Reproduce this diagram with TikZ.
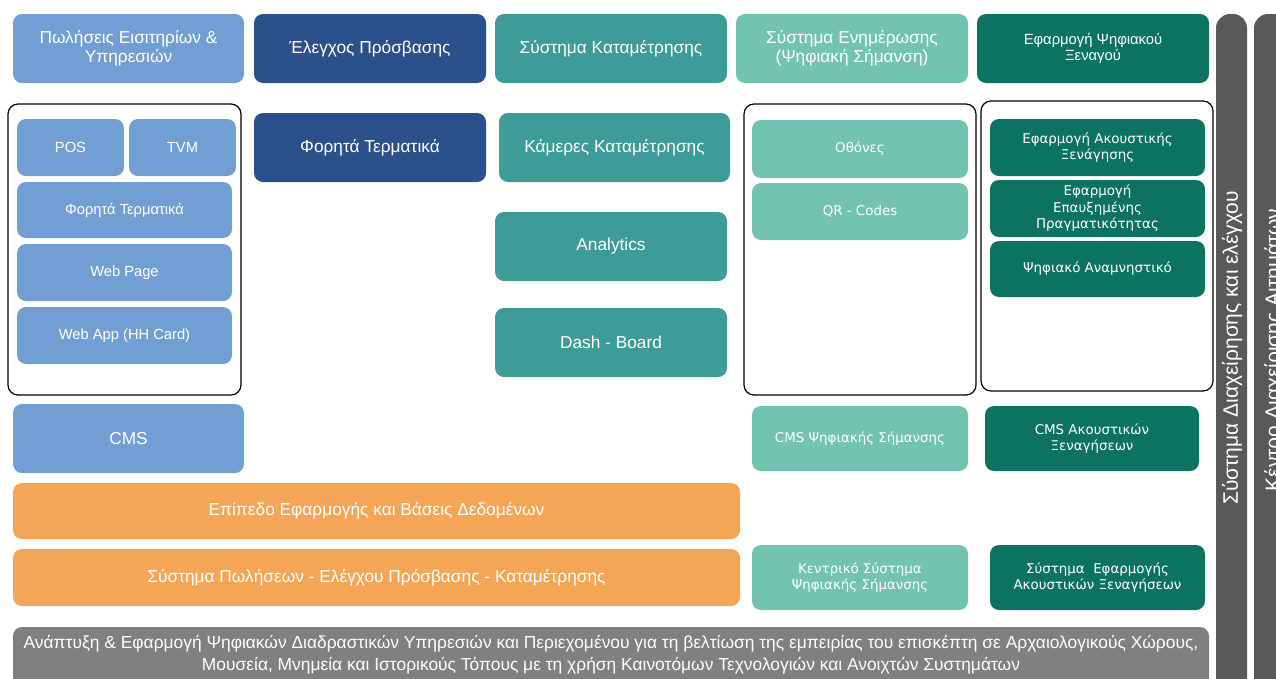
\documentclass[tikz,border=0pt]{standalone}
\usepackage{fontspec}
\setmainfont{Liberation Sans}
\newfontfamily\geo{DejaVu Sans}
\definecolor{lblue}{HTML}{729FD3}
\definecolor{dblue}{HTML}{2A5189}
\definecolor{teal1}{HTML}{3D9B98}
\definecolor{lgreen}{HTML}{72C4AF}
\definecolor{dgreen}{HTML}{0C7362}
\definecolor{orng}{HTML}{F4A556}
\definecolor{gbar}{HTML}{808080}
\definecolor{vbar}{HTML}{595959}
\tikzset{
  card/.style={rounded corners=9pt, draw=none, text=white, align=center, inner sep=2pt, outer sep=0pt},
  blt/.style={card, fill=lblue},
  bdk/.style={card, fill=dblue},
  btl/.style={card, fill=teal1},
  glt/.style={card, fill=lgreen},
  gdk/.style={card, fill=dgreen},
  org/.style={card, fill=orng},
  frame/.style={rounded corners=10pt, draw=black, line width=1.2pt, fill=none, outer sep=0pt, inner sep=0pt},
  big/.style={font=\fontsize{17.3}{19.5}\selectfont},
  sml/.style={font=\fontsize{14.7}{16.5}\selectfont},
  guidef/.style={font=\fontsize{14.8}{16.5}\selectfont},
  geos/.style={font=\geo\fontsize{13.4}{16.5}\selectfont},
  vtext/.style={text=white, rotate=90, font=\fontsize{21}{23}\selectfont, inner sep=0pt},
}
\newcommand\bx[7]{\node[#6, minimum width={#4pt-#2pt}, minimum height={#5pt-#3pt}] (#1) at ({(#2+#4)/2},{(#3+#5)/2}) {#7};}
\begin{document}
\begin{tikzpicture}[x=1pt,y=-1pt]
\useasboundingbox (0,0) rectangle (1276,678);
% top row
\bx{sales}{13}{14}{244}{83}{blt,big}{Πωλήσεις Εισιτηρίων \&\\Υπηρεσιών}
\bx{access}{254}{14}{486}{83}{bdk,big}{Έλεγχος Πρόσβασης}
\bx{count}{495}{14}{727}{83}{btl,big}{Σύστημα Καταμέτρησης}
\bx{info}{736}{14}{968}{83}{glt,big}{Σύστημα Ενημέρωσης\\(Ψηφιακή Σήμανση)}
\bx{guide}{977}{14}{1209}{83}{gdk,guidef}{Εφαρμογή Ψηφιακού\\Ξεναγού}
% frames
\bx{frameL}{8}{104}{241}{395}{frame}{}
\bx{frameM}{744}{104}{976}{395}{frame}{}
\bx{frameR}{981}{101}{1213}{391}{frame}{}
% left column
\bx{pos}{17}{119}{124}{176}{blt,sml}{POS}
\bx{tvm}{129}{119}{236}{176}{blt,sml}{TVM}
\bx{mobL}{17}{182}{232}{238}{blt,sml}{Φορητά Τερματικά}
\bx{web}{17}{244}{232}{301}{blt,sml}{Web Page}
\bx{webapp}{17}{307}{232}{364}{blt,sml}{Web App (HH Card)}
\bx{cms}{13}{404}{244}{473}{blt,big}{CMS}
% second column
\bx{mob}{254}{113}{486}{182}{bdk,big}{Φορητά Τερματικά}
% third column
\bx{cams}{499}{113}{730}{182}{btl,big}{Κάμερες Καταμέτρησης}
\bx{anal}{495}{212}{727}{281}{btl,big}{Analytics}
\bx{dash}{495}{308}{727}{377}{btl,big}{Dash - Board}
% fourth column
\bx{screens}{752}{120}{968}{178}{glt,geos}{Οθόνες}
\bx{qr}{752}{183}{968}{240}{glt,geos}{QR - Codes}
\bx{cmsds}{752}{406}{968}{471}{glt,geos}{CMS Ψηφιακής Σήμανσης}
\bx{central}{752}{545}{968}{610}{glt,geos}{Κεντρικό Σύστημα\\Ψηφιακής Σήμανσης}
% fifth column
\bx{audio}{990}{119}{1205}{176}{gdk,geos}{Εφαρμογή Ακουστικής\\Ξενάγησης}
\bx{ar}{990}{180}{1205}{237}{gdk,geos}{Εφαρμογή\\Επαυξημένης\\Πραγματικότητας}
\bx{souv}{990}{241}{1205}{297}{gdk,geos}{Ψηφιακό Αναμνηστικό}
\bx{cmsaud}{985}{406}{1199}{471}{gdk,geos}{CMS Ακουστικών\\Ξεναγήσεων}
\bx{sysaud}{990}{545}{1205}{610}{gdk,geos}{Σύστημα\ \ Εφαρμογής\\Ακουστικών Ξεναγήσεων}
% orange
\bx{applayer}{13}{483}{740}{539}{org,big}{Επίπεδο Εφαρμογής και Βάσεις Δεδομένων}
\bx{salesys}{13}{549}{740}{606}{org,big}{Σύστημα Πωλήσεων - Ελέγχου Πρόσβασης - Καταμέτρησης}
% bottom bar
\bx{bottom}{13}{627}{1209}{700}{card,fill=gbar}{}
\node[text=white, align=center, font=\fontsize{17.4}{22}\selectfont, inner sep=0pt] (bottomtxt) at (611,655) {Ανάπτυξη \& Εφαρμογή Ψηφιακών Διαδραστικών Υπηρεσιών και Περιεχομένου για τη βελτίωση της εμπειρίας του επισκέπτη σε Αρχαιολογικούς Χώρους,\\Μουσεία, Μνημεία και Ιστορικούς Τόπους με τη χρήση Καινοτόμων Τεχνολογιών και Ανοιχτών Συστημάτων};
% vertical bars
\bx{vbar1}{1216}{14}{1247}{700}{card,fill=vbar,rounded corners=14pt}{}
\bx{vbar2}{1254}{14}{1300}{700}{card,fill=vbar,rounded corners=14pt}{}
\node[vtext] (vt1) at (1232,348) {Σύστημα Διαχείρησης και ελέγχου};
\node[vtext, anchor=base] (vt2) at (1280,350) {Κέντρο Διαχείρισης Αιτημάτων};
\end{tikzpicture}
\end{document}
